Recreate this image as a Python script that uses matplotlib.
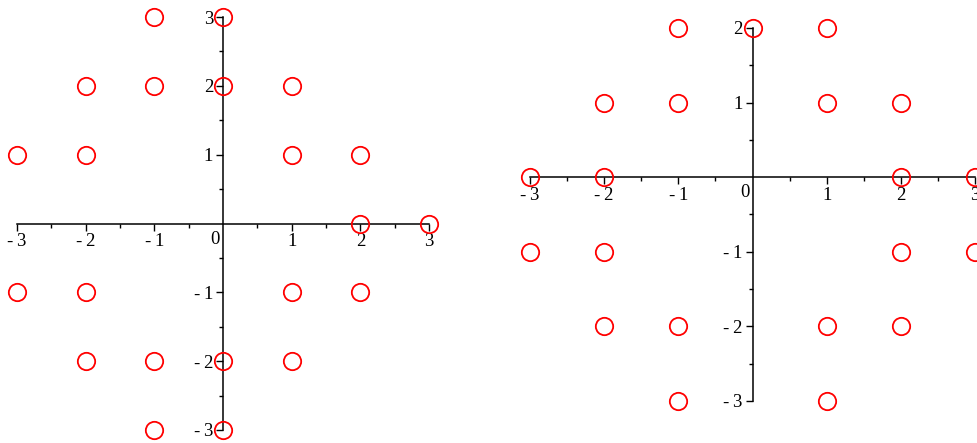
import matplotlib
matplotlib.use("Agg")
import matplotlib.pyplot as plt
from matplotlib.ticker import FixedLocator

plt.rcParams['font.family'] = ['Liberation Serif', 'DejaVu Serif']

# left panel points
left_x = [-1, 0, -2, -1, 0, 1, -3, -2, 1, 2, 2, 3, -3, -2, 1, 2, -2, -1, 0, 1, -1, 0]
left_y = [3, 3, 2, 2, 2, 2, 1, 1, 1, 1, 0, 0, -1, -1, -1, -1, -2, -2, -2, -2, -3, -3]

# right panel points
right_x = [-1, 0, 1, -2, -1, 1, 2, -3, -2, 2, 3, -3, -2, 2, 3, -2, -1, 1, 2, -1, 1]
right_y = [2, 2, 2, 1, 1, 1, 1, 0, 0, 0, 0, -1, -1, -1, -1, -2, -2, -2, -2, -3, -3]

left_xticks = [-3, -2, -1, 1, 2, 3]
left_yticks = [-3, -2, -1, 1, 2, 3]
right_xticks = [-3, -2, -1, 1, 2, 3]
right_yticks = [-3, -2, -1, 1, 2]

W, H = 977, 443
fig = plt.figure(figsize=(W / 100, H / 100), dpi=100)


def minus(v):
    # maple style: short dash, small gap
    return ('-\u2009' + str(-v)) if v < 0 else str(v)


def panel(rect_px, xs, ys, xlim, ylim, xticks, yticks):
    x0, y_top, x1, y_bot = rect_px
    ax = fig.add_axes([x0 / W, (H - y_bot) / H, (x1 - x0) / W, (y_bot - y_top) / H])
    ax.set_xlim(*xlim)
    ax.set_ylim(*ylim)
    for s in ('top', 'right'):
        ax.spines[s].set_visible(False)
    ax.spines['left'].set_position(('data', 0))
    ax.spines['bottom'].set_position(('data', 0))
    ax.spines['left'].set_bounds(*ylim)
    ax.spines['bottom'].set_bounds(*xlim)
    for s in ('left', 'bottom'):
        ax.spines[s].set_linewidth(1.1)
        ax.spines[s].set_zorder(1)
    ax.xaxis.set_major_locator(FixedLocator(xticks))
    ax.yaxis.set_major_locator(FixedLocator(yticks))
    ax.xaxis.set_minor_locator(FixedLocator([v + 0.5 for v in range(xlim[0], xlim[1])]))
    ax.yaxis.set_minor_locator(FixedLocator([v + 0.5 for v in range(ylim[0], ylim[1])]))
    ax.set_xticklabels([minus(v) for v in xticks])
    ax.set_yticklabels([minus(v) for v in yticks])
    ax.tick_params(which='major', length=5, width=1.0, labelsize=13.5, pad=2)
    ax.tick_params(which='minor', length=3, width=1.0)
    ax.patch.set_visible(False)
    ax.plot(xs, ys, 'o', markersize=12.5, markerfacecolor='none',
            markeredgecolor='#ff0000', markeredgewidth=1.3, clip_on=False, zorder=3)
    ax.annotate('0', xy=(0, 0), xytext=(-3, -7), textcoords='offset pixels',
                ha='right', va='top', fontsize=13.5)
    return ax


panel((17, 17, 429, 430), left_x, left_y, (-3, 3), (-3, 3), left_xticks, left_yticks)
panel((530, 28, 975, 401), right_x, right_y, (-3, 3), (-3, 2), right_xticks, right_yticks)

fig.savefig('out.png', dpi=100)
